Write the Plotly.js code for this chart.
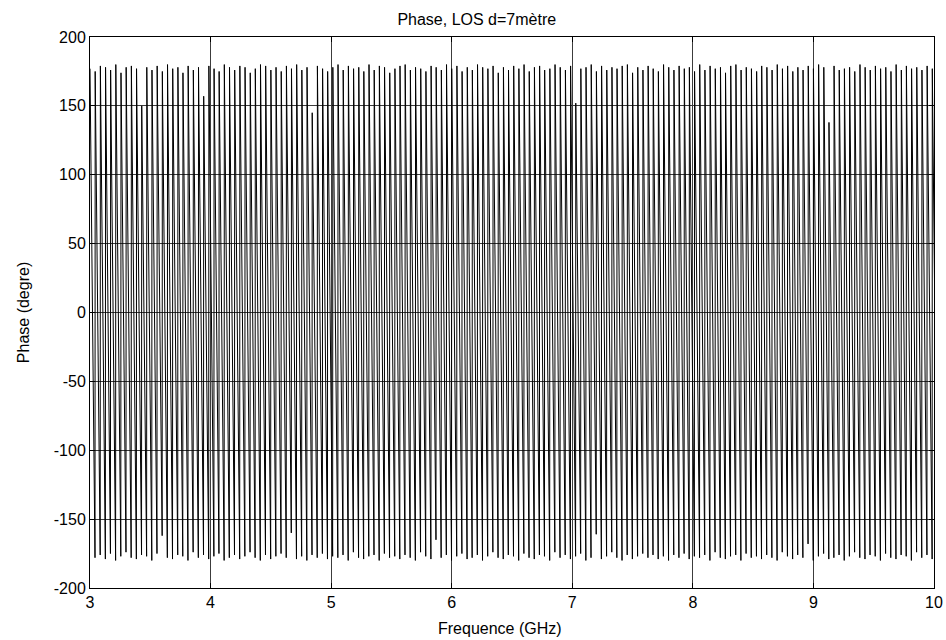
<!DOCTYPE html>
<html><head><meta charset="utf-8">
<script src="https://cdn.plot.ly/plotly-3.0.1.min.js"></script>
<style>html,body{margin:0;padding:0;background:#fff}#chart{width:946px;height:640px}</style>
</head><body><div id="chart"></div>
<script>
// Frequency (GHz) at which each phase cycle wraps back to the top
const wrapFreq = [
3.000,3.043,3.086,3.129,3.171,3.214,3.257,
3.300,3.343,3.386,3.429,3.471,3.514,3.557,
3.600,3.643,3.686,3.729,3.771,3.814,3.857,
3.900,3.943,3.986,4.029,4.071,4.114,4.157,
4.200,4.243,4.286,4.329,4.371,4.414,4.457,
4.500,4.543,4.586,4.629,4.671,4.714,4.757,
4.800,4.843,4.886,4.929,4.971,5.014,5.057,
5.100,5.143,5.186,5.229,5.271,5.314,5.357,
5.400,5.443,5.486,5.529,5.571,5.614,5.657,
5.700,5.743,5.786,5.829,5.871,5.914,5.957,
6.000,6.043,6.086,6.129,6.171,6.214,6.257,
6.300,6.343,6.386,6.429,6.471,6.514,6.557,
6.600,6.643,6.686,6.729,6.771,6.814,6.857,
6.900,6.943,6.986,7.029,7.071,7.114,7.157,
7.200,7.243,7.286,7.329,7.371,7.414,7.457,
7.500,7.543,7.586,7.629,7.671,7.714,7.757,
7.800,7.843,7.886,7.929,7.971,8.014,8.057,
8.100,8.143,8.186,8.229,8.271,8.314,8.357,
8.400,8.443,8.486,8.529,8.571,8.614,8.657,
8.700,8.743,8.786,8.829,8.871,8.914,8.957,
9.000,9.043,9.086,9.129,9.171,9.214,9.257,
9.300,9.343,9.386,9.429,9.471,9.514,9.557,
9.600,9.643,9.686,9.729,9.771,9.814,9.857,
9.900,9.943,9.986,10.029];

// Phase (degre) at the top of each cycle (just after the wrap)
const cycleTop = [
177,175,179,178,176,180,174,178,179,177,
150,178,176,179,175,180,177,178,174,179,
176,178,157,179,177,175,180,178,176,179,
178,174,177,180,179,176,178,175,179,177,
180,176,178,145,179,177,175,178,180,176,
179,177,178,175,180,176,179,178,174,177,
179,180,176,178,177,175,179,178,176,180,
177,179,175,178,176,180,178,177,179,174,
178,176,179,177,180,175,178,179,176,177,
180,178,176,179,152,177,178,180,175,179,
176,178,177,179,180,174,178,176,179,177,
175,180,178,176,179,177,178,175,180,176,
179,177,178,174,179,180,176,178,177,175,
179,178,176,180,177,179,175,178,176,179,
177,180,178,138,179,176,177,178,175,180,
178,176,179,177,178,175,180,176,179,177,
178,176,179,177];

// Phase (degre) at the bottom of each cycle (just before the wrap)
const cycleBottom = [
-178,-176,-179,-175,-180,-177,-174,-178,-179,-176,
-177,-180,-175,-162,-178,-179,-176,-177,-180,-174,
-178,-176,-179,-177,-175,-180,-178,-176,-179,-177,
-174,-178,-180,-176,-179,-177,-175,-178,-160,-179,
-177,-180,-176,-178,-175,-179,-177,-178,-176,-180,
-174,-178,-179,-177,-176,-180,-175,-178,-177,-179,
-176,-178,-180,-174,-177,-179,-165,-178,-176,-180,
-177,-175,-179,-178,-176,-180,-177,-174,-178,-179,
-176,-177,-180,-175,-178,-179,-176,-177,-180,-174,
-178,-176,-179,-177,-175,-180,-178,-161,-179,-177,
-174,-178,-180,-176,-179,-177,-175,-178,-176,-179,
-177,-180,-176,-178,-175,-179,-177,-178,-176,-180,
-174,-178,-179,-177,-176,-180,-175,-178,-177,-179,
-176,-178,-180,-174,-177,-179,-176,-178,-168,-180,
-177,-175,-179,-178,-176,-180,-177,-174,-178,-179,
-176,-177,-180,-175,-178,-179,-176,-177,-180,-174,
-178,-176,-179,-177];

const xTickVals = [3,4,5,6,7,8,9,10];
const xTickLabels = ['3','4','5','6','7','8','9','10'];
const yTickVals = [-200,-150,-100,-50,0,50,100,150,200];
const yTickLabels = ['-200','-150','-100','-50','0','50','100','150','200'];
const sampleStep = 0.0015; // GHz between last sample of a cycle and the wrap

const xs = [], ys = [];
for (let k = 0; k < cycleTop.length; k++) {
  xs.push(wrapFreq[k]); ys.push(cycleTop[k]);
  xs.push(wrapFreq[k + 1] - sampleStep); ys.push(cycleBottom[k]);
}

const font = '"Liberation Sans", Arial, Helvetica, sans-serif';
const axisCommon = {
  ticks: 'inside', ticklen: 5, tickcolor: '#000', tickwidth: 1,
  showline: true, linecolor: '#000', linewidth: 1, mirror: 'ticks',
  showgrid: true, gridcolor: '#3c3c3c', gridwidth: 1, zeroline: false,
  tickmode: 'array', fixedrange: true, automargin: false,
  tickfont: {family: font, size: 16, color: '#000'}
};

const layout = {
  width: 946, height: 640,
  margin: {l: 90, r: 12, t: 37, b: 52, pad: 0},
  paper_bgcolor: '#fff', plot_bgcolor: '#fff',
  font: {family: font, size: 16, color: '#000'},
  showlegend: false,
  title: {text: 'Phase, LOS d=7mètre', x: 0.504, xref: 'container', xanchor: 'center',
          y: 0.969, yref: 'container', yanchor: 'middle', font: {family: font, size: 16, color: '#000'}},
  xaxis: Object.assign({}, axisCommon, {range: [3, 10], tickvals: xTickVals, ticktext: xTickLabels}),
  yaxis: Object.assign({}, axisCommon, {range: [-200, 200], tickvals: yTickVals, ticktext: yTickLabels,
          title: {text: 'Phase (degre)', standoff: 20, font: {family: font, size: 16, color: '#000'}}}),
  annotations: [{text: 'Frequence (GHz)', xref: 'paper', yref: 'paper', x: 0.486, y: -0.073,
                 xanchor: 'center', yanchor: 'middle', showarrow: false,
                 font: {family: font, size: 16, color: '#000'}}]
};

Plotly.newPlot('chart', [{
  type: 'scatter', mode: 'lines', x: xs, y: ys,
  line: {color: '#000', width: 1}, hoverinfo: 'skip'
}], layout, {staticPlot: true, displayModeBar: false});
</script>
</body></html>
